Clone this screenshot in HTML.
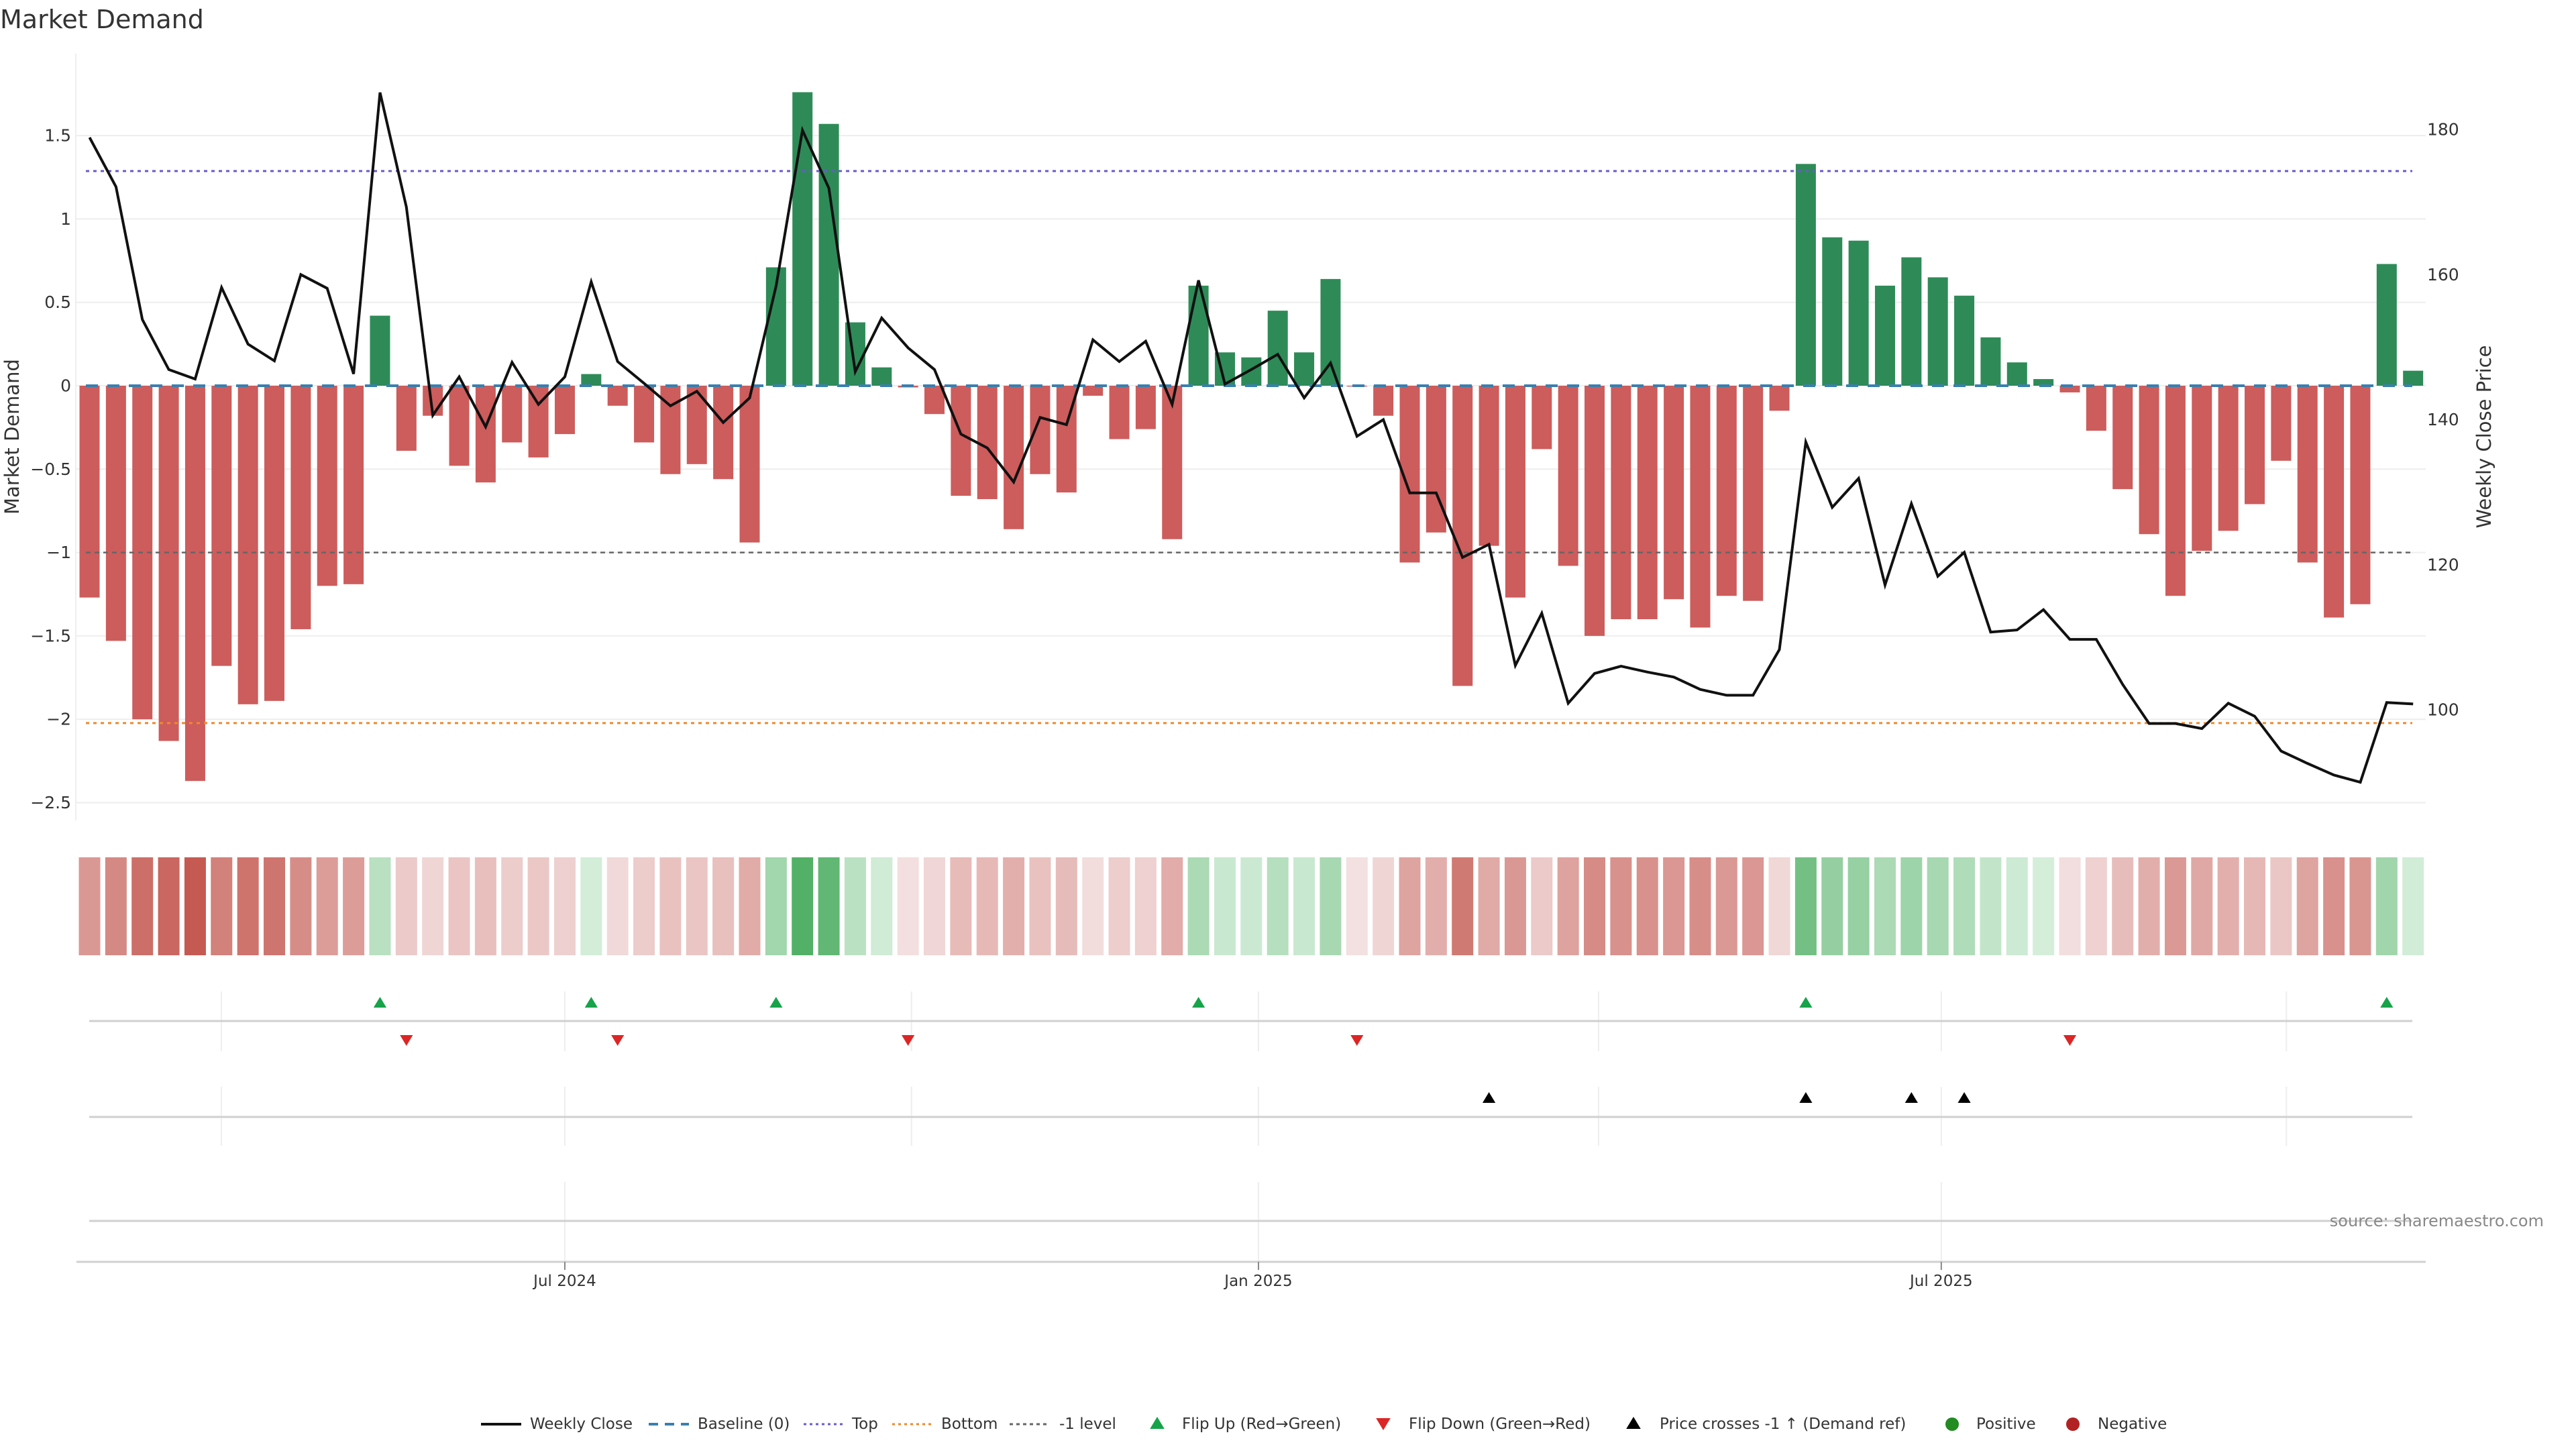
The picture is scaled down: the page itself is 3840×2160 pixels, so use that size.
<!DOCTYPE html>
<html><head><meta charset="utf-8"><style>
html,body{margin:0;padding:0;background:#fff;}
svg{display:block;font-family:"DejaVu Sans","Liberation Sans",sans-serif;}
</style></head><body>
<svg id="chart" width="3840" height="2160" viewBox="0 0 3840 2160" xmlns="http://www.w3.org/2000/svg">
<rect width="3840" height="2160" fill="#fff"/>
<text x="0" y="42" font-size="38" fill="#333">Market Demand</text>
<g id="g-grid"></g>
<g id="g-main"></g>
<g id="g-heat"></g>
<g id="g-events"></g>
<g id="g-axes"></g>
<text x="18" y="651" font-size="29" fill="#333" text-anchor="middle" transform="rotate(-90 18 651)" dominant-baseline="central">Market Demand</text>
<text x="3703" y="651" font-size="29" fill="#333" text-anchor="middle" transform="rotate(-90 3703 651)" dominant-baseline="central">Weekly Close Price</text>
<text x="3792" y="1828" font-size="24" fill="#888" text-anchor="end">source: sharemaestro.com</text>
<g id="g-legend"></g>
</svg>
<script>
const demand = [-1.27,-1.53,-2.0,-2.13,-2.37,-1.68,-1.91,-1.89,-1.46,-1.2,-1.19,0.42,-0.39,-0.18,-0.48,-0.58,-0.34,-0.43,-0.29,0.07,-0.12,-0.34,-0.53,-0.47,-0.56,-0.94,0.71,1.76,1.57,0.38,0.11,-0.01,-0.17,-0.66,-0.68,-0.86,-0.53,-0.64,-0.06,-0.32,-0.26,-0.92,0.6,0.2,0.17,0.45,0.2,0.64,-0.005,-0.18,-1.06,-0.88,-1.8,-0.96,-1.27,-0.38,-1.08,-1.5,-1.4,-1.4,-1.28,-1.45,-1.26,-1.29,-0.15,1.33,0.89,0.87,0.6,0.77,0.65,0.54,0.29,0.14,0.04,-0.04,-0.27,-0.62,-0.89,-1.26,-0.99,-0.87,-0.71,-0.45,-1.06,-1.39,-1.31,0.73,0.09];
const price = [178.9,172.1,153.8,146.9,145.6,158.2,150.4,148.1,160.0,158.1,146.3,185.1,169.3,140.6,145.9,139.0,147.9,142.1,145.9,159.0,148.0,145.0,141.9,143.9,139.6,143.0,158.4,179.9,171.9,146.6,154.0,149.9,146.9,138.0,136.1,131.4,140.3,139.3,151.0,148.0,150.8,142.1,159.2,144.9,146.9,149.0,143.0,147.8,137.7,140.0,129.9,129.9,121.0,122.8,106.1,113.3,100.9,105.0,106.0,105.2,104.5,102.8,102.0,102.0,108.3,136.9,127.9,131.9,117.2,128.4,118.4,121.7,110.7,111.0,113.8,109.7,109.7,103.5,98.1,98.1,97.4,100.9,99.1,94.3,92.6,91.0,90.0,101.0,100.8];
const flipUpIdx = [11,19,26,42,65,87];
const flipDownIdx = [12,20,31,48,75];
const crossIdx = [53,65,69,71];
const leftTicks = [1.5,1,0.5,0,-0.5,-1,-1.5,-2,-2.5];
const leftTickLabels = ["1.5","1","0.5","0","\u22120.5","\u22121","\u22121.5","\u22122","\u22122.5"];
const rightTicks = [180,160,140,120,100];
const topLevel = [1.287];
const bottomLevel = [-2.023];
const minusOneLevel = [-1];
const dateTicks = ["Jul 2024","Jan 2025","Jul 2025"];
const dateTickWeek = [18.0,44.27,70.13];
const minorDateWeek = [4.99,31.13,57.15,83.2];

const NS="http://www.w3.org/2000/svg";
function mk(parent,tag,attrs){const e=document.createElementNS(NS,tag);for(const k in attrs)e.setAttribute(k,attrs[k]);parent.appendChild(e);return e;}
const X0=133.5, DX=39.36, BW=30;
const xAt = i => X0 + i*DX;
const yL = v => 575 - v*248.6;
const yR = p => 1058 - (p-100)*10.8125;
const PL=113, PR=3616;

const grid=document.getElementById('g-grid');
leftTicks.forEach((t,i)=>{
  const l=mk(grid,'line',{x1:PL,x2:PR,y1:yL(t),y2:yL(t),stroke:'#eeeeee','stroke-width':2});
  
  
});
const main=document.getElementById('g-main');
demand.forEach((v,i)=>{
  const y0=yL(0), y1=yL(v);
  const r=mk(main,'rect',{x:xAt(i)-BW/2,y:Math.min(y0,y1),width:BW,height:Math.max(Math.abs(y1-y0),0.5),fill:v>=0?'#2e8b57':'#cd5c5c'});
  
  
});
function hline(v,color,dash,name,w){
  const l=mk(main,'line',{x1:PL+15,x2:PR-20,y1:yL(v),y2:yL(v),stroke:color,'stroke-width':w||3,'stroke-dasharray':dash});
  
  
}
hline(0,'#3a7fb0','18 14','baseline-line',4);
hline(topLevel[0],'#6a5acd','5 6','top-line');
hline(bottomLevel[0],'#f0892a','5 6','bottom-line');
hline(minusOneLevel[0],'#666','7 6','minus-one-line',2.5);
const pts=price.map((p,i)=>xAt(i).toFixed(1)+','+yR(p).toFixed(1)).join(' ');
const pl=mk(main,'polyline',{points:pts,fill:'none',stroke:'#111','stroke-width':4,'stroke-linejoin':'miter'});



const heat=document.getElementById('g-heat');
function lerp(a,b,t){return a.map((c,k)=>Math.round(c+(b[k]-c)*t));}
demand.forEach((v,i)=>{
  const t=Math.min(Math.abs(v)/2.4,1);
  const c=v>=0?lerp([216,239,221],[80,175,100],Math.min(Math.abs(v)/1.8,1)):lerp([243,224,224],[196,88,80],t);
  const r=mk(heat,'rect',{x:xAt(i)-16,y:1278,width:32,height:146,fill:'rgb('+c.join(',')+')'});
  
  
});

const ev=document.getElementById('g-events');
const wx = w => X0 + w*DX;
minorDateWeek.concat(dateTickWeek).forEach(w=>{
  [[1478,1567],[1620,1708]].forEach(([a,b])=>{
    const l=mk(ev,'line',{x1:wx(w),x2:wx(w),y1:a,y2:b,stroke:'#eeeeee','stroke-width':2});
    
    
  });
});
dateTickWeek.forEach(w=>{
  const l=mk(ev,'line',{x1:wx(w),x2:wx(w),y1:1762,y2:1881,stroke:'#eeeeee','stroke-width':2});
  
  
});
[1522,1665,1820].forEach(y=>{
  const l=mk(ev,'line',{x1:133,x2:3596,y1:y,y2:y,stroke:'#d0d0d0','stroke-width':3});
  
  
});
function tri(parent,cx,cy,up,color,s){
  const h=s, w=s*0.6;
  const p=up?`${cx-w},${cy+h/2} ${cx+w},${cy+h/2} ${cx},${cy-h/2}`:`${cx-w},${cy-h/2} ${cx+w},${cy-h/2} ${cx},${cy+h/2}`;
  return mk(parent,'polygon',{points:p,fill:color});
}
flipUpIdx.forEach(i=>{
  const t=tri(ev,xAt(i),1494,true,'#16a34a',16);
  
  
});
flipDownIdx.forEach(i=>{
  const t=tri(ev,xAt(i),1551,false,'#dc2626',16);
  
  
});
crossIdx.forEach(i=>{
  const t=tri(ev,xAt(i),1636,true,'#000',16);
  
  
});

const ax=document.getElementById('g-axes');
const sp=mk(ax,'line',{x1:PL,x2:PL,y1:80,y2:1223,stroke:'#eeeeee','stroke-width':2});


leftTicks.forEach((t,i)=>{
  const tx=mk(ax,'text',{x:106,y:yL(t),'font-size':25,fill:'#333','text-anchor':'end','dominant-baseline':'central'});
  tx.textContent=leftTickLabels[i];
  
  
});
rightTicks.forEach(t=>{
  const tx=mk(ax,'text',{x:3618,y:yR(t),'font-size':25,fill:'#333','dominant-baseline':'central'});
  tx.textContent=String(t);
  
  
});
const xa=mk(ax,'line',{x1:114,x2:3616,y1:1881,y2:1881,stroke:'#d0d0d0','stroke-width':3});


dateTicks.forEach((lab,i)=>{
  const x=wx(dateTickWeek[i]);
  const tk=mk(ax,'line',{x1:x,x2:x,y1:1881,y2:1893,stroke:'#888','stroke-width':2});
  
  
  const tx=mk(ax,'text',{x:x,y:1910,'font-size':23,fill:'#333','text-anchor':'middle','dominant-baseline':'central'});
  tx.textContent=lab;
  
  
});

const lg=document.getElementById('g-legend');
const LY=2123;
function ltext(x,s){const t=mk(lg,'text',{x:x,y:LY,'font-size':23,fill:'#333','dominant-baseline':'central'});t.textContent=s;}
function lline(x,color,dash,w){const l=mk(lg,'line',{x1:x,x2:x+60,y1:LY,y2:LY,stroke:color,'stroke-width':w,'stroke-dasharray':dash});}
lline(717,'#111','none',4);ltext(790,'Weekly Close');
lline(967,'#3a7fb0','14 10',4);ltext(1040,'Baseline (0)');
lline(1198,'#6a5acd','4 5',3);ltext(1270,'Top');
lline(1330,'#f0892a','4 5',3);ltext(1403,'Bottom');
lline(1505,'#666','5 5',3);ltext(1579,'-1 level');
let t1=tri(lg,1725,LY-2,true,'#16a34a',18);
ltext(1762,'Flip Up (Red\u2192Green)');
let t2=tri(lg,2062,LY,false,'#dc2626',18);
ltext(2100,'Flip Down (Green\u2192Red)');
let t3=tri(lg,2435,LY-2,true,'#000',18);
ltext(2474,'Price crosses -1 \u2191 (Demand ref)');
let c1=mk(lg,'circle',{cx:2910,cy:LY,r:10,fill:'#228b22'});
ltext(2946,'Positive');
let c2=mk(lg,'circle',{cx:3090,cy:LY,r:10,fill:'#b22222'});
ltext(3127,'Negative');
</script>
</body></html>
